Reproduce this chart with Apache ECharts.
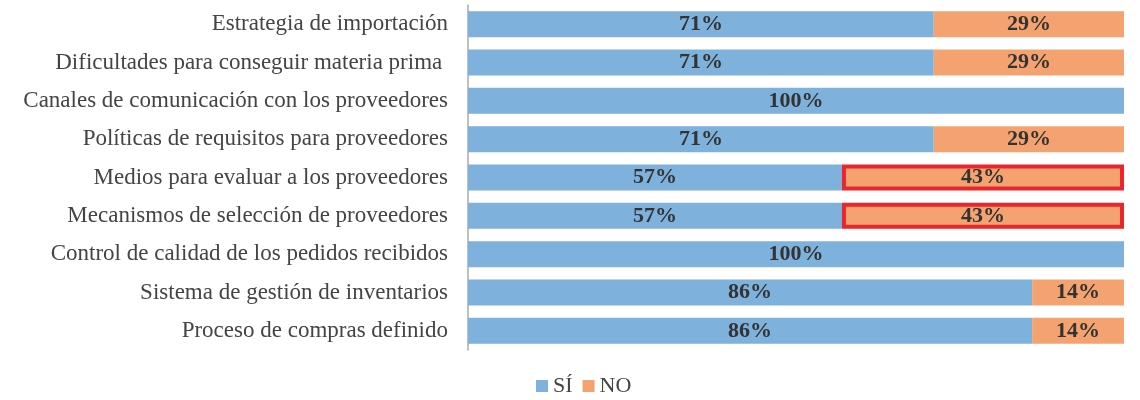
<!DOCTYPE html>
<html>
<head>
<meta charset="utf-8">
<script src="https://cdn.jsdelivr.net/npm/echarts@6/dist/echarts.min.js"></script>
<style>
  html, body { margin: 0; padding: 0; background: #fff; }
  #chart { width: 1140px; height: 400px; }
</style>
</head>
<body>
<div id="chart"></div>
<script>
const categories = [
  "Estrategia de importación",
  "Dificultades para conseguir materia prima ",
  "Canales de comunicación con los proveedores",
  "Políticas de requisitos para proveedores",
  "Medios para evaluar a los proveedores",
  "Mecanismos de selección de proveedores",
  "Control de calidad de los pedidos recibidos",
  "Sistema de gestión de inventarios",
  "Proceso de compras definido"
];
const siValues = [71, 71, 100, 71, 57, 57, 100, 86, 86];
const noValues = [29, 29, 0, 29, 43, 43, 0, 14, 14];
const highlighted = [4, 5]; // rows with the red frame on NO

const font = "'Liberation Serif', 'Times New Roman', serif";
const barLabel = {
  show: true,
  position: "inside",
  fontFamily: font,
  fontSize: 22,
  fontWeight: "bold",
  color: "#333",
  formatter: (p) => (p.value > 0 ? p.value + "%" : "")
};

const chart = echarts.init(document.getElementById("chart"));
chart.setOption({
  animation: false,
  grid: { left: 468, right: 16, top: 5, bottom: 50 },
  legend: {
    data: ["SÍ", "NO"],
    left: 531,
    bottom: -2,
    itemWidth: 12,
    itemHeight: 12,
    itemGap: 10,
    icon: "rect",
    textStyle: { fontFamily: font, fontSize: 22, color: "#444" }
  },
  xAxis: {
    type: "value",
    min: 0,
    max: 100,
    show: false
  },
  yAxis: {
    type: "category",
    inverse: true,
    data: categories,
    axisLine: { lineStyle: { color: "#aaa", width: 1.5 } },
    axisTick: { show: false },
    axisLabel: {
      fontFamily: font,
      fontSize: 23,
      color: "#444",
      margin: 20
    }
  },
  series: [
    {
      name: "SÍ",
      type: "bar",
      stack: "total",
      barCategoryGap: "32%",
      itemStyle: { color: "#7eb1db" },
      label: barLabel,
      data: siValues
    },
    {
      name: "NO",
      type: "bar",
      stack: "total",
      itemStyle: { color: "#f4a370" },
      label: barLabel,
      data: noValues.map((v, i) =>
        highlighted.includes(i)
          ? { value: v, itemStyle: { borderColor: "#e8262b", borderWidth: 4 } }
          : v
      )
    }
  ]
});
</script>
</body>
</html>
